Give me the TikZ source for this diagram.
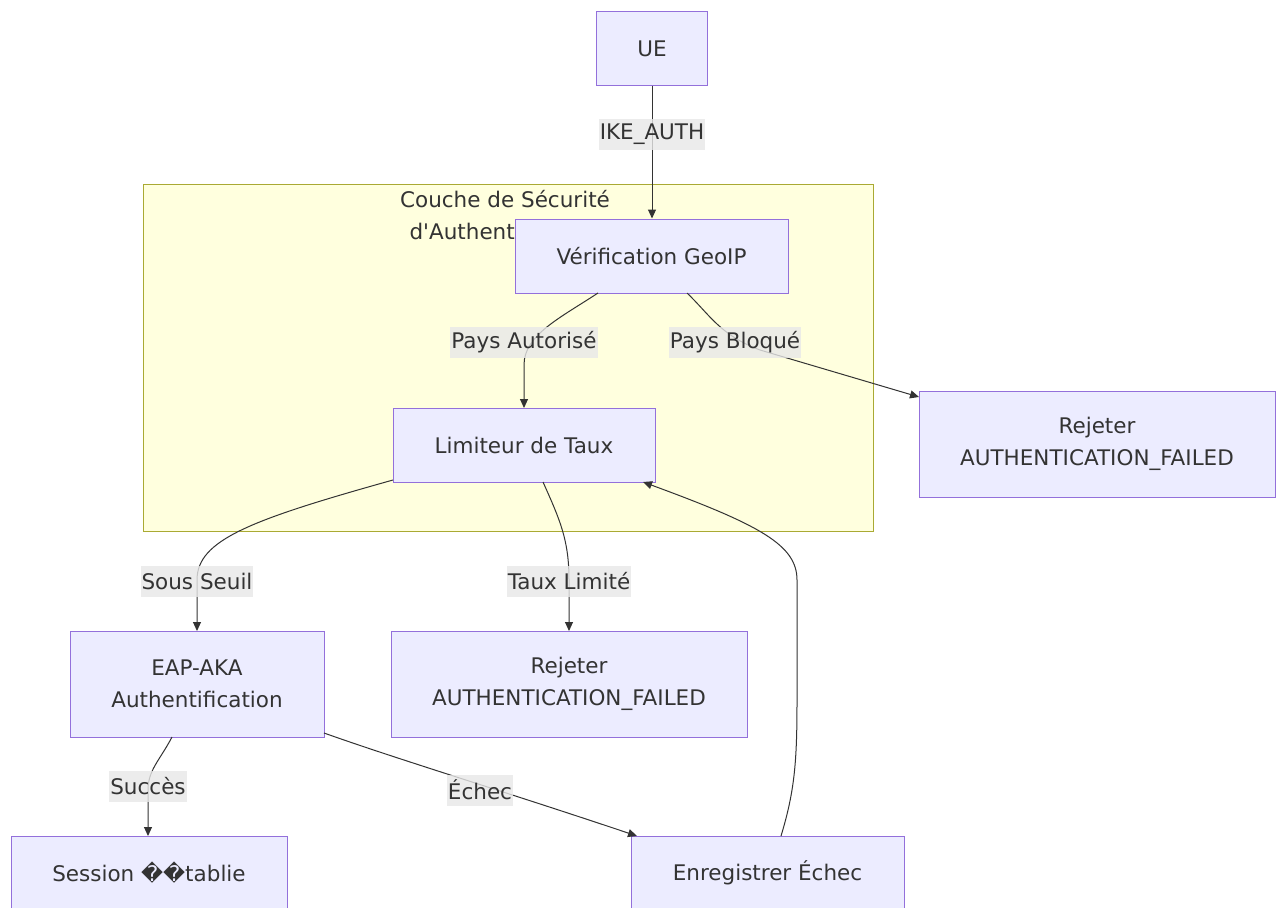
\documentclass[tikz,border=0pt]{standalone}
\usepackage{fontspec}
\setmainfont{DejaVu Sans}
\usetikzlibrary{arrows.meta}
\definecolor{nodefill}{HTML}{ECECFF}
\definecolor{nodeline}{HTML}{9370DB}
\definecolor{txt}{HTML}{333333}
\definecolor{grpfill}{HTML}{FFFFDE}
\definecolor{grpline}{HTML}{AAAA33}
\definecolor{lblbg}{HTML}{E8E8E8}
\tikzset{
  box/.style={draw=nodeline, fill=nodefill, line width=1pt, text=txt, align=center, inner sep=0pt, font=\fontsize{21.5}{32}\selectfont},
  edge/.style={draw=txt, line width=1pt, -{Triangle[length=9pt,width=8pt]}},
  lbl/.style={fill=lblbg, fill opacity=0.8, text opacity=1, text=txt, inner xsep=1pt, inner ysep=0pt, minimum height=31pt, font=\fontsize{21.5}{26}\selectfont},
}
\begin{document}
\begin{tikzpicture}[x=1pt,y=-1pt]
\useasboundingbox (0,0) rectangle (1276,907);
\fill[white] (0,0) rectangle (1276,907);
% group
\node[draw=grpline, fill=grpfill, line width=1pt, minimum width=730pt, minimum height=347pt, inner sep=0pt] (grp) at (508,357.5) {};
\node[text=txt, align=center, font=\fontsize{21.5}{32}\selectfont] (grptitle) at (505,215) {Couche de Sécurité\\d\textquotesingle Authentification};
% nodes
\node[box, minimum width=111pt, minimum height=73pt] (ue) at (652,48.5) {UE};
\node[box, minimum width=273pt, minimum height=74pt] (geo) at (651.5,256) {Vérification GeoIP};
\node[box, minimum width=262pt, minimum height=74pt] (lim) at (524,445) {Limiteur de Taux};
\node[box, minimum width=356pt, minimum height=106pt] (rej1) at (1097,444) {Rejeter\\AUTHENTICATION\_FAILED};
\node[box, minimum width=254pt, minimum height=106pt] (eap) at (197,684) {EAP-AKA\\Authentification};
\node[box, minimum width=356pt, minimum height=106pt] (rej2) at (569,684) {Rejeter\\AUTHENTICATION\_FAILED};
\node[box, minimum width=276pt, minimum height=74pt] (ses) at (149,873) {Session \symbol{"FFFD}\symbol{"FFFD}tablie};
\node[box, minimum width=273pt, minimum height=74pt] (enr) at (767.5,873) {Enregistrer Échec};
% edges
\draw[edge] (ue.south) -- (ue.south |- geo.north);
\node[lbl] (l1) at (652,134) {IKE\_AUTH};

\draw[edge] (598,293) .. controls (560,318) and (524,335) .. (524,365) -- (524,408);
\node[lbl] (l2) at (524,342) {Pays Autorisé};

\draw[edge] (687,293) .. controls (710,315) and (720,335) .. (760,350) -- (919,397);
\node[lbl] (l3) at (735,342) {Pays Bloqué};

\draw[edge] (393,480) .. controls (250,520) and (197,540) .. (197,580) -- (197,631);
\node[lbl] (l4) at (197,581) {Sous Seuil};

\draw[edge] (543,482) .. controls (560,520) and (569,540) .. (569,580) -- (569,631);
\node[lbl] (l5) at (569,581) {Taux Limité};

\draw[edge] (172,737) .. controls (160,760) and (148,770) .. (148,790) -- (148,836);
\node[lbl] (l6) at (148,786) {Succès};

\draw[edge] (324,733) .. controls (400,760) and (500,790) .. (637,836);
\node[lbl] (l7) at (480,790) {Échec};

\draw[edge] (781,836) .. controls (795,790) and (797,760) .. (797,700) -- (797,580) .. controls (797,545) and (760,525) .. (643,482);
\end{tikzpicture}
\end{document}
